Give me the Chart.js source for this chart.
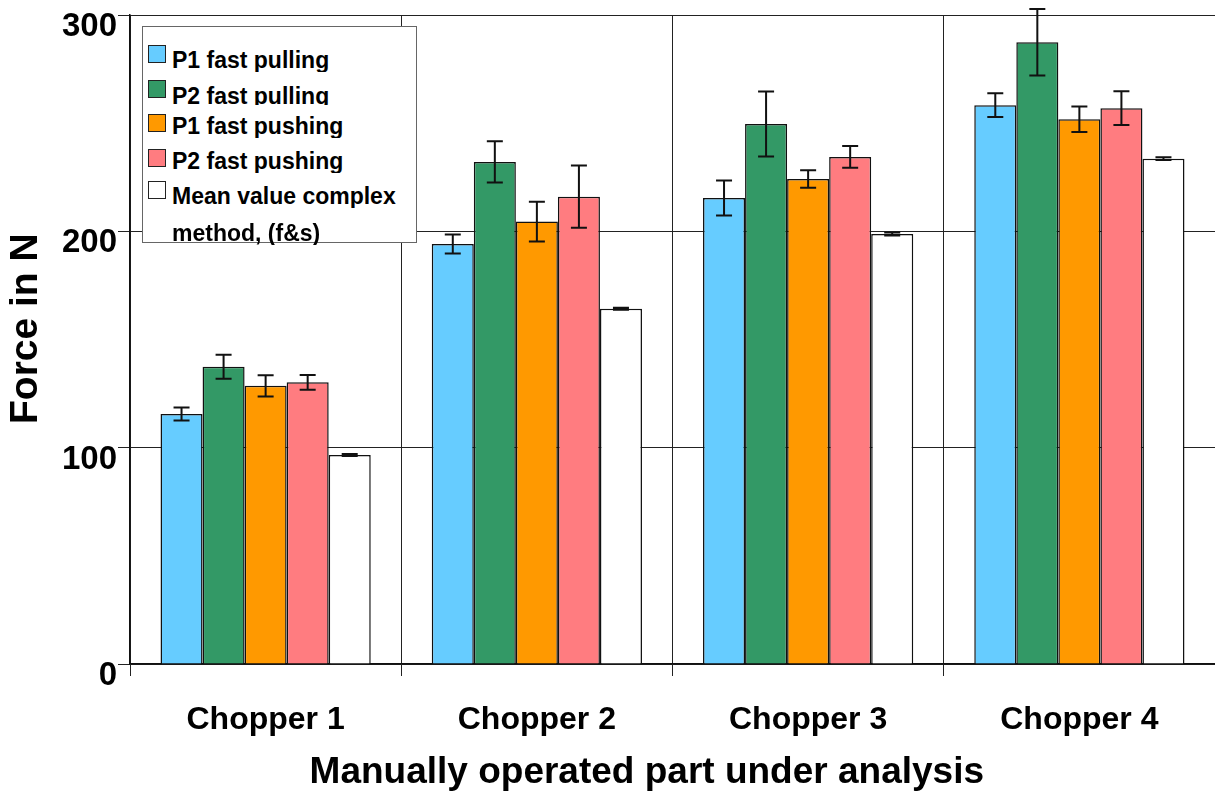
<!DOCTYPE html>
<html>
<head>
<meta charset="utf-8">
<script src="https://cdn.jsdelivr.net/npm/chart.js@4"></script>
<style>
  html, body { margin: 0; padding: 0; background: #fff; }
  #wrap { position: relative; width: 1215px; height: 792px; font-family: "Liberation Sans", Arial, sans-serif; }
  #legend { position: absolute; left: 142px; top: 26px; width: 275px; height: 217px; border: 1px solid #666; background: #fff; box-sizing: border-box; }
  .sw { position: absolute; left: 5px; width: 18px; height: 18px; border: 1.5px solid #222; box-sizing: border-box; }
  .lt { position: absolute; left: 29px; font-weight: bold; font-size: 23px; line-height: 23px; color: #000; white-space: nowrap; overflow: hidden; }
</style>
</head>
<body>
<div id="wrap">
  <canvas id="c" width="1215" height="792"></canvas>
  <div id="legend"></div>
</div>
<script>
// Force per chopper
const categories = ["Chopper 1", "Chopper 2", "Chopper 3", "Chopper 4"];
const seriesNames = ["P1 fast pulling", "P2 fast pulling", "P1 fast pushing", "P2 fast pushing", "Mean value complex method, (f&s)"];
const seriesColors = ["#66CCFF", "#339966", "#FF9900", "#FF7C80", "#FFFFFF"];

const p1Pull = [115.6, 194.1, 215.4, 258.3];
const p2Pull = [137.4, 232.1, 249.6, 287.4];
const p1Push = [128.6, 204.5, 224.2, 251.8];
const p2Push = [130.2, 216.0, 234.4, 256.9];
const meanComplex = [96.6, 164.2, 198.8, 233.6];

const p1PullErr = [3.0, 4.4, 8.1, 5.5];
const p2PullErr = [5.5, 9.5, 15.0, 15.4];
const p1PushErr = [4.9, 9.2, 4.0, 5.9];
const p2PushErr = [3.4, 14.4, 5.0, 7.8];
const meanErr = [0.5, 0.5, 0.7, 0.6];

const values = [p1Pull, p2Pull, p1Push, p2Push, meanComplex];
const errors = [p1PullErr, p2PullErr, p1PushErr, p2PushErr, meanErr];

// error bars drawn on the chart's own scales
const errorBars = {
  id: "errorBars",
  afterDatasetsDraw(chart) {
    const ctx = chart.ctx;
    const y = chart.scales.y;
    ctx.save();
    ctx.strokeStyle = "#111";
    ctx.lineWidth = 2;
    chart.data.datasets.forEach((ds, i) => {
      const meta = chart.getDatasetMeta(i);
      meta.data.forEach((bar, j) => {
        const v = ds.data[j], e = ds.err[j];
        const top = y.getPixelForValue(v + e);
        const bot = y.getPixelForValue(v - e);
        ctx.beginPath();
        ctx.moveTo(bar.x, top); ctx.lineTo(bar.x, bot);
        ctx.moveTo(bar.x - 8, top); ctx.lineTo(bar.x + 8, top);
        ctx.moveTo(bar.x - 8, bot); ctx.lineTo(bar.x + 8, bot);
        ctx.stroke();
      });
    });
    ctx.restore();
  }
};

new Chart(document.getElementById("c"), {
  type: "bar",
  data: {
    labels: categories,
    datasets: seriesNames.map((name, i) => ({
      label: name,
      data: values[i],
      err: errors[i],
      backgroundColor: seriesColors[i],
      borderColor: "#111",
      borderWidth: 1.5,
      categoryPercentage: 0.775,
      barPercentage: 1.0,
    })),
  },
  options: {
    responsive: false,
    animation: false,
    layout: { padding: { top: 15, right: 0, left: 0, bottom: 0 } },
    plugins: { legend: { display: false }, tooltip: { enabled: false } },
    scales: {
      x: {
        grid: { color: "#222", lineWidth: 1, offset: true, tickLength: 12 },
        border: { color: "#111", width: 1.5 },
        ticks: { color: "#000", padding: 25, font: { family: "Liberation Sans", size: 32, weight: "bold" } },
        title: {
          display: true,
          text: "Manually operated part under analysis     ",
          color: "#000",
          font: { family: "Liberation Sans", size: 37, weight: "bold", lineHeight: 1.0 },
          padding: { top: 1, bottom: 1 },
        },
        afterFit(scale) { scale.height = 128; },
      },
      y: {
        min: 0,
        max: 300,
        grid: { color: "#222", lineWidth: 1, tickLength: 12 },
        border: { color: "#111", width: 1.5 },
        ticks: { stepSize: 100, color: "#000", padding: 1, labelOffset: 12, font: { family: "Liberation Sans", size: 33, weight: "bold", lineHeight: 0.8 } },
        title: {
          display: true,
          text: "  Force in N",
          color: "#000",
          font: { family: "Liberation Sans", size: 39, weight: "bold" },
          padding: { top: 3, bottom: 0 },
        },
        afterFit(scale) { scale.width = 130; },
      },
    },
  },
  plugins: [errorBars],
});

// legend box laid over the plot, as in the original
const legend = document.getElementById("legend");
const swTops = [18, 53, 87, 122, 154];
const txtTops = [23, 59, 89, 124, 159];
seriesNames.forEach((name, i) => {
  const sw = document.createElement("div");
  sw.className = "sw";
  sw.style.top = swTops[i] + "px";
  sw.style.background = seriesColors[i];
  legend.appendChild(sw);
  const lines = i === 4 ? ["Mean value complex", "method, (f&s)"] : [name];
  lines.forEach((ln, k) => {
    const t = document.createElement("div");
    t.className = "lt";
    t.style.top = (txtTops[i] + k * 37 - 1) + "px";
    if (i === 1) t.style.height = "20px";
    t.textContent = ln;
    legend.appendChild(t);
  });
});
</script>
</body>
</html>
